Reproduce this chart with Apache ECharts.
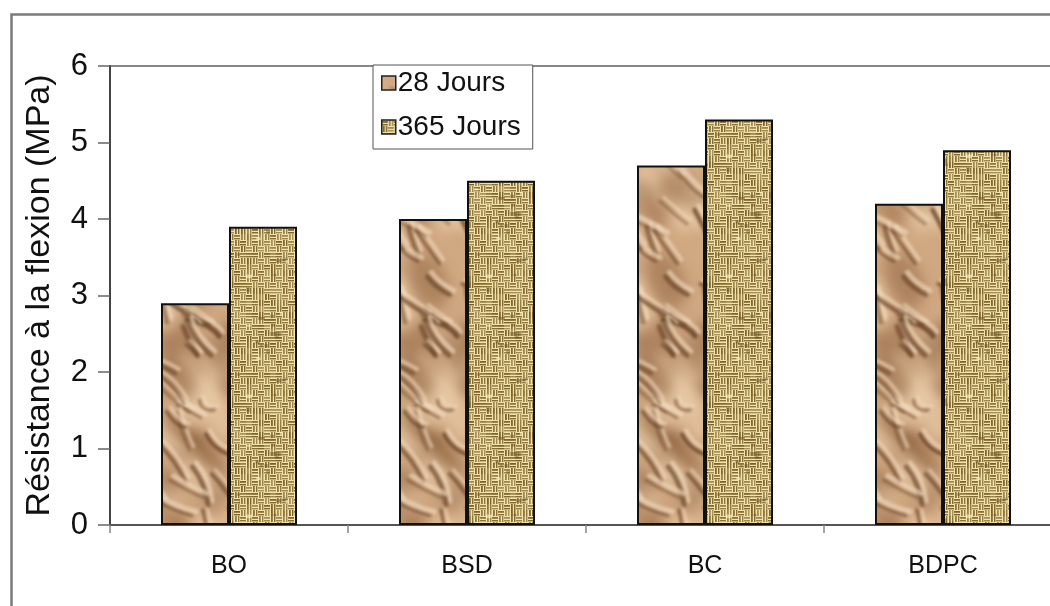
<!DOCTYPE html>
<html><head><meta charset="utf-8">
<script src="https://cdn.jsdelivr.net/npm/echarts@6/dist/echarts.min.js"></script>
<style>html,body{margin:0;padding:0;background:#fff;overflow:hidden;width:1050px;height:606px}#c{width:1070px;height:606px}</style>
</head><body><div id="c"></div>
<script>
const categories = ['BO', 'BSD', 'BC', 'BDPC'];
const seriesNames = ['28 Jours', '365 Jours'];
const jours28 = [2.9, 4.0, 4.7, 4.2];
const jours365 = [3.9, 4.5, 5.3, 4.9];
const yTicks = [0, 1, 2, 3, 4, 5, 6];
const yTitle = 'Résistance à la flexion (MPa)';

// deterministic texture generator (style only)
let seed = 12345;
function rnd(){ seed = (seed * 16807) % 2147483647; return seed / 2147483647; }

function paperTexture(){
  const c = document.createElement('canvas'); c.width = 238; c.height = 606;
  const g = c.getContext('2d');
  g.fillStyle = '#d0a882'; g.fillRect(0,0,c.width,c.height);
  g.filter = 'blur(7px)';
  for (let i=0;i<180;i++){
    const x = rnd()*c.width, y = rnd()*c.height;
    const w = 10+rnd()*26, h = 5+rnd()*14;
    const light = rnd() > 0.45;
    g.fillStyle = light ? 'rgba(236,206,172,0.6)' : 'rgba(140,96,60,0.5)';
    g.beginPath();
    g.ellipse(x,y,w,h,0.6+rnd()*0.6,0,Math.PI*2); g.fill();
  }
  g.lineCap = 'round';
  g.filter = 'blur(1.8px)';
  for (let i=0;i<110;i++){
    const x = rnd()*c.width, y = rnd()*c.height, len = 15+rnd()*40;
    const ang = 0.4 + rnd()*1.0;
    const ex = x+len*Math.cos(ang), ey = y+len*Math.sin(ang);
    const mx = (x+ex)/2 + (rnd()-0.5)*16, my = (y+ey)/2 + (rnd()-0.5)*16;
    g.strokeStyle = 'rgba(242,218,190,0.65)'; g.lineWidth = 2.5 + rnd()*3;
    g.beginPath(); g.moveTo(x+4,y-4); g.quadraticCurveTo(mx+4,my-4,ex+4,ey-4); g.stroke();
    g.strokeStyle = 'rgba(100,62,34,' + (0.4+rnd()*0.4) + ')';
    g.lineWidth = 2 + rnd()*3.5;
    g.beginPath(); g.moveTo(x,y); g.quadraticCurveTo(mx,my,ex,ey); g.stroke();
  }
  g.filter = 'none';
  return c;
}
function burlapTexture(){
  const c = document.createElement('canvas'); c.width = 120; c.height = 120;
  const g = c.getContext('2d');
  g.fillStyle = '#f0e2aa'; g.fillRect(0,0,120,120);
  g.filter = 'blur(0.6px)';
  const cell = 6;
  for (let i=0;i<20;i++){
    for (let j=0;j<20;j++){
      const x = i*cell, y = j*cell;
      const v = 0.6 + rnd()*0.4;
      g.fillStyle = 'rgba(122,96,38,' + v + ')';
      const horiz = ((i+j)%2===0) !== (rnd() < 0.15);
      if (horiz){
        g.fillRect(x, y+1, cell, 1.8);
        g.fillRect(x, y+4, cell, 1.4);
      } else {
        g.fillRect(x+1, y, 1.8, cell);
        g.fillRect(x+4, y, 1.4, cell);
      }
    }
  }
  for (let k=0;k<26;k++){
    const x = rnd()*120, y = rnd()*120;
    g.fillStyle = 'rgba(100,76,30,0.45)'; g.fillRect(x,y,3+rnd()*4,2+rnd()*3);
  }
  for (let k=0;k<20;k++){
    const x = rnd()*120, y = rnd()*120;
    g.fillStyle = 'rgba(255,246,205,0.6)'; g.fillRect(x,y,3+rnd()*4,1.5+rnd()*2);
  }
  g.filter = 'none';
  return c;
}
const pat28 = { image: paperTexture(), repeat: 'repeat' };
const pat365 = { image: burlapTexture(), repeat: 'repeat' };

const chart = echarts.init(document.getElementById('c'), null, {renderer:'canvas'});
const font = 'Liberation Sans, Arial, sans-serif';
chart.setOption({
  animation: false,
  backgroundColor: '#fff',
  graphic: [{
    type: 'rect', left: 9, top: 12, silent: true, z: -1,
    shape: { x: 0, y: 0, width: 1100, height: 700 },
    style: { fill: 'none', stroke: '#7a7a7a', lineWidth: 2.5 }
  }],
  grid: { left: 110, top: 66, right: 8, bottom: 81, show: true, borderColor: '#888', borderWidth: 2, backgroundColor: 'transparent' },
  legend: {
    orient: 'vertical', left: 373, top: 65,
    data: seriesNames,
    icon: 'rect', itemWidth: 14, itemHeight: 14, itemGap: 16,
    padding: [4, 12, 8, 8],
    borderColor: '#555', borderWidth: 1, backgroundColor: '#fff',
    itemStyle: { borderColor: '#222', borderWidth: 1.5 },
    textStyle: { fontFamily: font, fontSize: 28, color: '#111', padding: [0,0,0,-3] }
  },
  xAxis: {
    type: 'category', data: categories,
    axisLine: { lineStyle: { color: '#555', width: 2 } },
    axisTick: { show: true, length: 8, lineStyle: { color: '#888', width: 1.5 } },
    axisLabel: { fontFamily: font, fontSize: 25, color: '#111', margin: 29 }
  },
  yAxis: {
    type: 'value', min: yTicks[0], max: yTicks[yTicks.length-1], interval: 1,
    name: yTitle, nameLocation: 'middle', nameRotate: 90, nameGap: 53,
    nameTextStyle: { fontFamily: font, fontSize: 34, color: '#111' },
    axisLine: { show: true, lineStyle: { color: '#444', width: 2 } },
    axisTick: { show: true, length: 12, lineStyle: { color: '#666', width: 1.5 } },
    axisLabel: { fontFamily: font, fontSize: 31, color: '#111', margin: 22 },
    splitLine: { show: false }
  },
  series: [
    { name: seriesNames[0], type: 'bar', data: jours28, barWidth: 68, barGap: '0%',
      itemStyle: { color: pat28, borderColor: '#111', borderWidth: 2 } },
    { name: seriesNames[1], type: 'bar', data: jours365, barWidth: 68, barGap: '0%',
      itemStyle: { color: pat365, borderColor: '#111', borderWidth: 2 } }
  ]
});
</script></body></html>
